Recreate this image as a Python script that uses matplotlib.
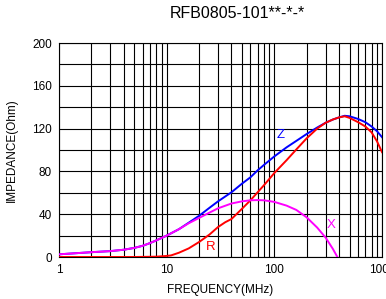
import matplotlib.pyplot as plt
from matplotlib.ticker import FixedLocator, NullFormatter

plt.rcParams['font.family'] = ['Liberation Sans', 'DejaVu Sans']

# Data (frequency in MHz, impedance in Ohm)
freq_z = [1, 2, 3, 4, 5, 6, 7, 8, 10, 13, 16, 20, 25, 30, 40, 50, 60, 70, 80,
          100, 130, 160, 200, 250, 300, 350, 400, 450, 500, 600, 700, 800, 900, 1000]
z_vals = [2.5, 4.5, 5.5, 6.8, 8.5, 10.5, 13, 15.5, 20, 26, 32, 38.5, 46, 52, 60.5, 68.5, 74.5, 81, 86,
          94, 102.5, 108.5, 115, 121, 125.5, 128.5, 130.5, 132, 131.5, 129, 126, 122, 117.5, 112]

freq_r = [1, 5, 8, 10, 11, 13, 16, 20, 25, 30, 35, 40, 50, 60, 70, 80,
          100, 130, 160, 200, 250, 300, 350, 400, 450, 500, 600, 700, 800, 900, 1000]
r_vals = [0, 0, 0.3, 1, 1.5, 4, 8, 14, 21, 28, 32.5, 35.5, 45, 53, 60.5, 67,
          78.5, 90.5, 100.5, 111, 120, 125.5, 128.5, 130.5, 131.5, 130, 126, 122, 116.5, 108, 98]

freq_x = [1, 2, 3, 4, 5, 6, 7, 8, 10, 13, 16, 20, 25, 30, 40, 50, 60, 70, 80,
          100, 130, 160, 200, 250, 300, 350, 385]
x_vals = [2.5, 4.5, 5.5, 6.8, 8.5, 10.5, 13, 15.5, 20, 26, 31.5, 36.5, 41.5, 45.5, 50, 52, 53, 53.2, 53,
          51.5, 48, 44, 37, 27.5, 18, 7.5, 0]

x_ticks = [1, 10, 100, 1000]
x_tick_labels = ['1', '10', '100', '1000']
y_ticks = [0, 40, 80, 120, 160, 200]

fig = plt.figure(figsize=(3.86, 2.99), dpi=100)
ax = fig.add_axes([59 / 386, 42 / 299, 323 / 386, 214 / 299])

ax.plot(freq_z, z_vals, color='#0000ff', lw=1.4, zorder=3)
ax.plot(freq_r, r_vals, color='#ff0000', lw=1.4, zorder=3)
ax.plot(freq_x, x_vals, color='#ff00ff', lw=1.4, zorder=4)

ax.set_xscale('log')
ax.set_xlim(1, 1000)
ax.set_ylim(0, 200)

minor = [m * d for d in (1, 10, 100) for m in range(2, 10)]
ax.xaxis.set_major_locator(FixedLocator(x_ticks))
ax.xaxis.set_minor_locator(FixedLocator(minor))
ax.xaxis.set_minor_formatter(NullFormatter())
ax.set_xticks(x_ticks)
ax.set_xticklabels(x_tick_labels)
ax.set_yticks(y_ticks)
ax.yaxis.set_minor_locator(FixedLocator([20, 60, 100, 140, 180]))

ax.grid(True, which='both', color='black', lw=0.8)
ax.tick_params(which='both', length=0, labelsize=8.5, pad=5)
for s in ax.spines.values():
    s.set_color('black')
    s.set_linewidth(0.8)

# curve labels
ax.text(115, 114, 'Z', color='#0000ff', fontsize=9.5, ha='center', va='center')
ax.text(25.5, 9, 'R', color='#ff0000', fontsize=9.5, ha='center', va='center')
ax.text(336, 30, 'X', color='#ff00ff', fontsize=9.5, ha='center', va='center')

ax.set_xlabel('FREQUENCY(MHz)', fontsize=8.5, labelpad=6)
ax.set_ylabel('IMPEDANCE(Ohm)', fontsize=8.5, labelpad=10)
fig.text(237 / 386, 1 - 14 / 299, 'RFB0805-101**-*-*', fontsize=11.5,
         ha='center', va='center')

fig.savefig('out.png', dpi=100)
